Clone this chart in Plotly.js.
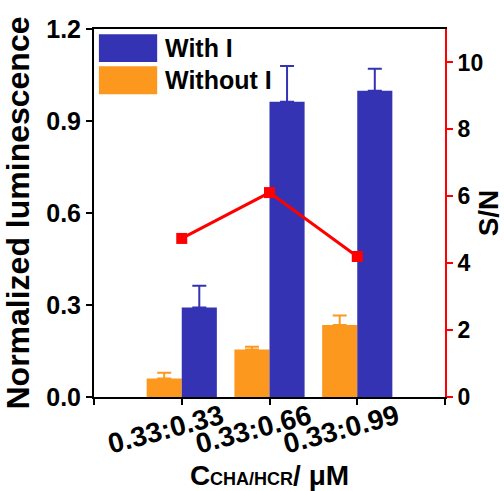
<!DOCTYPE html>
<html>
<head>
<meta charset="utf-8">
<script src="https://cdn.plot.ly/plotly-3.0.1.min.js"></script>
<style>html,body{margin:0;padding:0;background:#fff;}#chart{width:504px;height:491px;}</style>
</head>
<body>
<div id="chart"></div>
<script>
const categories = ['0.33:0.33', '0.33:0.66', '0.33:0.99'];
const withI = [0.292, 0.963, 0.999];
const withIErr = [0.071, 0.116, 0.071];
const withoutI = [0.060, 0.155, 0.235];
const withoutIErr = [0.019, 0.009, 0.031];
const snRatio = [4.74, 6.11, 4.20];
const seriesNames = ['With I', 'Without I'];

const BLUE = '#3333B4';
const ORANGE = '#FD981F';
const RED = '#FF0000';
const FONT = 'Arial, "Liberation Sans", sans-serif';

const xpos = categories.map((c, i) => i);
const zeros = categories.map(() => 0);

const traces = [
  {
    type: 'bar', name: seriesNames[1], x: xpos, y: withoutI,
    marker: {color: ORANGE, line: {width: 0}},
    error_y: {type: 'data', symmetric: false, array: withoutIErr, arrayminus: zeros, color: ORANGE, thickness: 2, width: 7},
    showlegend: false
  },
  {
    type: 'bar', name: seriesNames[0], x: xpos, y: withI,
    marker: {color: BLUE, line: {width: 0}},
    error_y: {type: 'data', symmetric: false, array: withIErr, arrayminus: zeros, color: BLUE, thickness: 2, width: 7},
    showlegend: false
  },
  {
    type: 'scatter', mode: 'lines+markers', name: 'S/N', x: xpos, y: snRatio, yaxis: 'y2',
    line: {color: RED, width: 3},
    marker: {color: RED, symbol: 'square', size: 11},
    showlegend: false
  }
];

const layout = {
  width: 504, height: 491,
  margin: {l: 94, r: 59, t: 29, b: 94},
  paper_bgcolor: '#ffffff', plot_bgcolor: '#ffffff',
  font: {family: FONT, color: '#000', size: 25, weight: 'bold'},
  barmode: 'group', bargap: 0.2, bargroupgap: 0,
  showlegend: false,
  xaxis: {
    range: [-1, 3],
    tickmode: 'array',
    tickvals: [-1].concat(xpos, [3]),
    ticktext: [''].concat(categories, ['']),
    tickangle: -15,
    ticklabelshift: 40,
    ticklabelstandoff: -15,
    ticks: 'outside', ticklen: 6, tickwidth: 2, tickcolor: '#000',
    showline: true, linecolor: '#000', linewidth: 2, mirror: true,
    showgrid: false, zeroline: false,
    tickfont: {family: FONT, size: 28, weight: 'bold', color: '#000'},
    title: {
      text: 'C<span style="font-size:18px">CHA/HCR</span>/ μM',
      standoff: 36,
      font: {family: FONT, size: 28, weight: 'bold', color: '#000'}
    }
  },
  yaxis: {
    range: [0, 1.2],
    tickvals: [0, 0.3, 0.6, 0.9, 1.2],
    ticktext: ['0.0', '0.3', '0.6', '0.9', '1.2'],
    ticks: 'outside', ticklen: 6, tickwidth: 2, tickcolor: '#000',
    showline: true, linecolor: '#000', linewidth: 2,
    showgrid: false, zeroline: false,
    tickfont: {family: FONT, size: 25, weight: 'bold', color: '#000'},
    title: {
      text: 'Normalized luminescence',
      font: {family: FONT, size: 32, weight: 'bold', color: '#000'}
    }
  },
  yaxis2: {
    overlaying: 'y', side: 'right',
    range: [0, 11],
    tickvals: [0, 2, 4, 6, 8, 10],
    ticks: 'outside', ticklen: 6, tickwidth: 2, tickcolor: RED,
    showline: true, linecolor: RED, linewidth: 2,
    showgrid: false, zeroline: false,
    tickfont: {family: FONT, size: 23, weight: 'bold', color: '#000'},
    title: {
      text: 'S/N',
      standoff: 14,
      font: {family: FONT, size: 28, weight: 'bold', color: '#000'}
    }
  },
  shapes: [
    {type: 'rect', xref: 'paper', yref: 'paper', x0: 0.014, x1: 0.18, y0: 0.910, y1: 0.986, fillcolor: BLUE, line: {width: 0}},
    {type: 'rect', xref: 'paper', yref: 'paper', x0: 0.014, x1: 0.18, y0: 0.823, y1: 0.899, fillcolor: ORANGE, line: {width: 0}}
  ],
  annotations: [
    {xref: 'paper', yref: 'paper', x: 0.197, y: 0.948, xanchor: 'left', yanchor: 'middle', showarrow: false, text: seriesNames[0], font: {family: FONT, size: 25, weight: 'bold', color: '#000'}},
    {xref: 'paper', yref: 'paper', x: 0.197, y: 0.861, xanchor: 'left', yanchor: 'middle', showarrow: false, text: seriesNames[1], font: {family: FONT, size: 25, weight: 'bold', color: '#000'}}
  ]
};

Plotly.newPlot('chart', traces, layout, {displayModeBar: false, staticPlot: true});
</script>
</body>
</html>
